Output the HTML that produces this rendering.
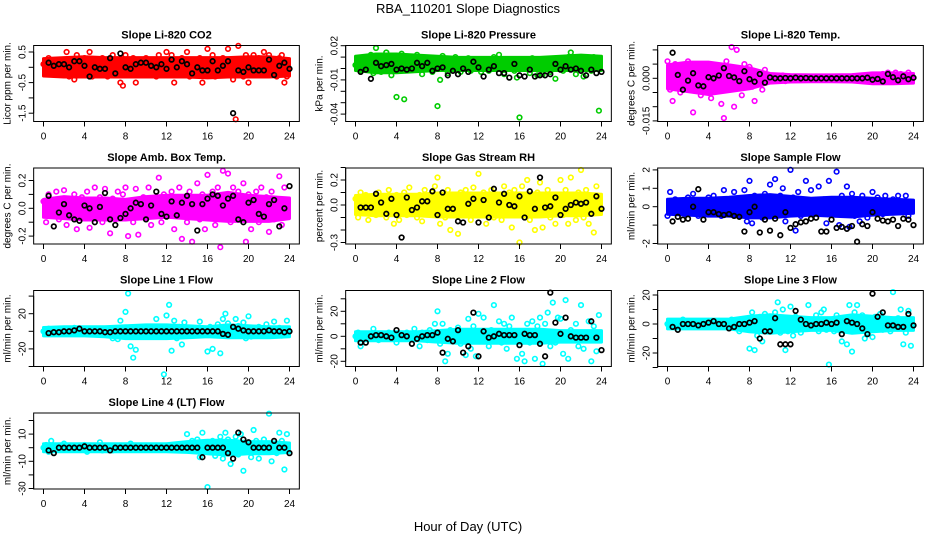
<!DOCTYPE html>
<html><head><meta charset="utf-8">
<style>
html,body{margin:0;padding:0;background:#fff;}
svg{display:block;font-family:"Liberation Sans",sans-serif;}
</style></head>
<body>
<svg id="chart" width="936" height="540" viewBox="0 0 936 540">
<text x="468" y="13" text-anchor="middle" font-size="13">RBA_110201  Slope Diagnostics</text>
<text x="468" y="531" text-anchor="middle" font-size="13">Hour of Day (UTC)</text>
</svg>
<script>
const xTicks = [0,4,8,12,16,20,24];
const xTickLabels = ["0","4","8","12","16","20","24"];
const colorStep = 0.25;
const blackStart = 0.5, blackStep = 0.5;
const bandStep = 2;

const co2Color = [0.1,-0.2,0.3,0.0,-0.1,0.2,-0.2,0.1, 0.0,0.5,-0.3,0.2,-0.4,0.4,0.1,-0.2, 0.3,-0.1,0.5,-0.3,0.2,0.0,-0.2,0.3, 0.1,-0.3,0.2,0.4,-0.2,0.0,-0.5,-0.6, 0.4,-0.2,0.1,0.3,-0.5,0.2,-0.1,0.0, 0.3,-0.2,0.2,0.0,-0.3,0.4,0.1,-0.1, 0.5,-0.2,0.4,-0.5,0.2,-0.1,0.3,0.0, 0.5,-0.3,0.2,0.0,-0.2,0.3,-0.5,0.1, 0.6,-0.1,0.4,-0.3,0.2,0.0,0.3,-0.2, 0.6,0.2,-0.4,-1.7,0.7,0.0,-0.3,0.4, -0.5,0.2,0.4,-0.1,0.3,-0.2,0.5,0.0, 0.4,-0.2,0.2,-0.3,0.3,0.4,-0.5,-0.3];
const co2Black = [0.15,0.05,0.1,0.1,0.0,0.2,0.2,0.05,-0.3,0.0,-0.05,-0.05,0.3,-0.2,0.45,0.0,-0.05,0.1,0.15,0.15,0.05,0.0,0.1,-0.05,0.25,0.0,0.2,0.1,-0.2,0.0,-0.1,-0.1,0.2,-0.1,0.05,0.2,-1.5,-0.1,-0.15,0.0,-0.1,-0.1,-0.1,0.25,-0.25,0.05,0.15,-0.05];
const co2BandLow = [-0.22,-0.25,-0.25,-0.25,-0.25,-0.25,-0.25,-0.25,-0.28,-0.25,-0.25,-0.25,-0.22];
const co2BandHigh = [0.22,0.25,0.28,0.25,0.25,0.25,0.25,0.25,0.25,0.25,0.28,0.28,0.22];

const presColor = [0.003,0.008,-0.002,0.006,0.010,0.000,0.012,-0.004, 0.018,0.005,-0.003,0.009,0.014,0.002,-0.006,0.011, -0.025,0.008,0.013,-0.027,0.004,0.010,-0.001,0.007, 0.012,0.002,-0.005,0.009,0.000,0.006,-0.003,0.004, -0.033,-0.010,0.011,0.003,-0.004,0.008,0.001,0.010, 0.002,-0.003,0.007,0.000,0.009,-0.002,0.005,0.001, 0.004,-0.003,0.008,0.001,-0.002,0.006,0.010,0.000, 0.012,0.003,-0.005,0.007,0.000,0.004,-0.002,-0.008, -0.043,0.005,0.000,0.008,-0.004,0.009,0.002,-0.006, 0.006,-0.005,0.008,0.001,-0.003,0.007,-0.009,0.004, 0.002,-0.002,0.007,0.010,0.014,0.003,-0.005,0.008, 0.001,-0.007,0.009,0.004,-0.002,0.010,0.005,-0.037];
const presBlack = [-0.003,-0.001,-0.009,0.005,0.002,0.003,0.004,-0.001,0.000,-0.001,0.000,0.005,0.002,0.005,-0.002,0.000,0.001,-0.006,-0.002,-0.005,0.000,-0.003,0.006,0.001,-0.007,-0.001,0.002,-0.004,-0.004,-0.008,0.004,-0.006,-0.007,-0.001,-0.007,-0.006,-0.006,-0.005,0.004,-0.001,0.002,-0.001,0.000,-0.002,-0.006,-0.001,-0.004,-0.003];
const presBandLow = [0.000,-0.002,-0.002,-0.001,0.000,0.000,0.000,0.000,0.000,0.000,0.000,0.000,0.000];
const presBandHigh = [0.009,0.011,0.011,0.010,0.009,0.008,0.008,0.008,0.008,0.008,0.009,0.010,0.009];

const tempColor = [0.006,-0.004,-0.008,0.005,0.001,-0.005,0.002,-0.003, 0.006,-0.002,-0.012,0.004,0.000,-0.006,0.003,-0.001, 0.002,-0.007,0.004,-0.003,0.001,-0.009,-0.014,0.006, -0.004,0.011,-0.010,0.010,0.000,-0.006,0.005,-0.002, 0.004,-0.003,-0.008,0.002,0.001,-0.004,0.003,-0.001, 0.001,-0.001,0.0005,-0.0005,0.000,0.001,-0.001,0.0005, 0.000,-0.0005,0.0005,0.000,-0.0005,0.0005,0.000,0.000, 0.0005,0.000,-0.0005,0.000,0.0003,0.000,-0.0003,0.000, 0.000,0.0003,0.000,-0.0003,0.000,0.0003,0.000,-0.0003, 0.0005,0.000,-0.0005,0.0003,0.000,-0.0003,0.0005,-0.001, 0.001,-0.001,0.0005,-0.001,0.0015,-0.0005,0.002,-0.001, 0.001,0.002,-0.001,0.0015,0.000,-0.0005,0.002,0.0005];
const tempBlack = [0.009,0.0012,-0.004,-0.0008,0.0018,-0.0025,-0.0028,0.0004,0.000,0.001,0.0036,0.0008,0.0003,-0.001,0.0025,-0.0003,-0.0012,0.0015,-0.0015,0.0003,0.000,0.000,0.0001,0.000,0.0002,0.000,0.0001,0.000,0.000,0.000,0.000,0.000,0.000,0.000,0.000,0.000,0.000,0.000,0.0002,-0.0005,-0.0002,-0.0011,0.0015,0.0004,-0.0007,0.0007,-0.0003,0.0002];
const tempBandLow = [-0.003,-0.004,-0.005,-0.004,-0.003,-0.001,-0.0006,-0.0005,-0.0005,-0.0006,-0.0012,-0.0012,-0.001];
const tempBandHigh = [0.004,0.005,0.005,0.004,0.003,0.001,0.0006,0.0005,0.0005,0.0006,0.0012,0.0012,0.001];

const ambColor = [0.05,-0.1,0.1,-0.05,0.0,0.12,-0.08,0.03, 0.13,-0.12,0.06,-0.02,0.1,-0.15,0.0,0.08, -0.06,0.12,-0.14,0.03,0.15,-0.05,0.08,-0.1, 0.14,0.0,-0.18,0.07,-0.08,0.12,-0.03,0.1, 0.15,-0.2,0.05,-0.1,0.14,-0.19,0.02,0.08, -0.07,0.15,-0.12,0.05,0.0,0.22,-0.1,0.1, 0.08,-0.05,0.12,-0.15,0.03,0.15,-0.22,0.06, -0.1,0.12,-0.24,0.05,0.18,-0.08,0.1,-0.15, 0.24,-0.05,0.12,-0.12,0.15,-0.28,0.27,0.05, 0.25,-0.1,0.15,-0.02,0.12,-0.08,0.18,-0.24, 0.1,-0.15,0.05,0.12,-0.1,0.15,-0.05,0.08, -0.17,0.12,-0.08,0.05,0.23,-0.12,0.15,0.0];
const ambBlack = [0.09,-0.13,-0.03,0.03,-0.05,-0.08,-0.09,0.02,0.0,-0.1,0.01,0.11,-0.08,-0.12,-0.07,-0.04,0.0,0.04,0.03,-0.08,0.02,0.12,-0.04,-0.06,0.05,-0.05,0.04,0.09,0.03,-0.16,0.03,0.07,0.1,0.09,0.02,0.07,0.09,-0.08,-0.1,0.04,0.06,-0.04,-0.06,0.03,0.06,-0.13,0.0,0.16];
const ambBandLow = [-0.05,-0.06,-0.07,-0.07,-0.07,-0.06,-0.05,-0.06,-0.07,-0.08,-0.08,-0.08,-0.06];
const ambBandHigh = [0.05,0.07,0.06,0.06,0.05,0.07,0.08,0.08,0.08,0.1,0.08,0.07,0.06];

const rhColor = [0.05,-0.1,0.1,-0.05,0.08,-0.12,0.02,0.06, -0.08,0.1,-0.03,0.05,-0.1,0.12,0.0,-0.15, 0.08,-0.12,0.03,0.1,-0.08,0.14,-0.02,0.05, -0.1,0.08,-0.13,0.12,0.0,-0.06,0.1,0.15, 0.22,-0.15,0.05,-0.1,0.12,-0.2,0.03,0.08, -0.23,0.1,-0.05,0.12,0.0,-0.12,0.14,0.05, 0.25,-0.08,0.1,-0.15,0.05,0.12,-0.1,0.02, 0.08,-0.12,0.15,-0.05,0.1,-0.18,0.12,0.04, -0.3,0.15,-0.08,0.2,-0.12,0.05,-0.2,0.1, 0.18,-0.18,0.05,0.12,-0.1,0.08,-0.15,0.03, 0.2,-0.08,0.12,-0.15,0.22,0.05,-0.12,0.1, 0.28,-0.1,0.12,-0.15,0.05,-0.22,0.15,0.02];
const rhBlack = [-0.02,-0.02,-0.02,0.09,0.02,-0.07,0.05,-0.08,-0.26,0.06,-0.04,-0.02,0.03,0.03,0.11,-0.08,0.1,-0.03,-0.03,-0.13,-0.14,0.01,0.05,-0.14,0.04,-0.1,0.13,0.02,0.09,0.0,-0.01,0.07,-0.1,0.11,-0.03,0.22,-0.02,-0.01,0.06,-0.08,-0.03,0.0,0.02,0.01,0.02,-0.07,0.07,-0.03];
const rhBandLow = [-0.06,-0.07,-0.07,-0.07,-0.08,-0.08,-0.08,-0.08,-0.08,-0.08,-0.07,-0.07,-0.06];
const rhBandHigh = [0.06,0.07,0.07,0.07,0.08,0.08,0.08,0.08,0.08,0.08,0.08,0.08,0.07];

const flowColor = [-0.5,0.8,-0.2,0.4,-0.3,0.2,0.3,-0.4, 0.5,-0.2,0.7,0.1,-0.5,0.3,-0.3,0.2, 0.5,-0.4,0.6,-0.2,0.3,-0.5,0.9,0.0, 0.3,-0.4,0.8,-0.3,0.2,-0.1,0.9,-0.8, 1.4,-0.9,0.6,-0.3,0.5,-0.6,0.7,0.2, 1.2,-0.4,1.5,-0.2,0.6,1.0,-0.8,0.4, 2.0,0.5,-1.3,0.8,-0.5,0.3,1.4,-0.2, 0.9,-0.4,0.2,1.1,-0.3,0.4,-0.9,1.4, 0.3,-0.2,1.9,-1.0,0.6,-0.4,1.1,-1.1, 0.7,-0.5,0.4,-0.8,0.6,-0.2,-0.6,0.2, 0.8,-0.3,0.5,0.1,-0.4,0.6,-0.2,0.3, 0.4,-0.1,0.6,-0.3,0.2,0.6,-0.5,0.1];
const flowBlack = [-0.8,-0.55,-0.7,-0.65,0.0,0.95,-0.7,-0.3,-0.3,-0.4,-0.45,-0.4,-0.5,-0.55,-1.35,-0.3,0.0,-1.4,-0.7,-1.3,-0.65,-1.55,-0.3,-1.15,-0.95,-0.85,-0.8,-0.65,-0.6,-1.35,-1.35,-0.7,-1.15,-1.1,-1.2,-1.05,-1.9,-0.95,-1.05,-0.3,-0.65,-0.75,-0.8,-0.7,-1.05,-0.65,-0.7,-1.0];
const flowBandLow = [-0.3,-0.35,-0.4,-0.4,-0.5,-0.5,-0.4,-0.35,-0.4,-0.45,-0.35,-0.3,-0.25];
const flowBandHigh = [0.3,0.35,0.35,0.4,0.5,0.55,0.45,0.35,0.4,0.4,0.35,0.3,0.25];

const line1Color = [0,-2,3,1,-1,2,0,-3, 3,0,-2,1,4,-1,0,2, -3,1,2,-2,0,3,-1,1, 2,-4,0,-8,3,-9,12,-2, 22,43,-17,-30,-21,1,-3,2, 0,-4,2,-2,14,-1,4,-49, 18,30,-22,12,-8,5,-15,10, 2,-3,4,0,-2,11,-1,2, -23,5,-20,3,8,-25,14,20, 9,5,-3,14,6,-5,10,-8, 17,-6,3,-2,5,-4,2,8, 3,-2,11,-4,4,-5,2,12];
const line1Black = [-2,-1,-1,0,0,1,3,0,0,0,0,-1,-1,0,0,0,0,0,0,0,0,0,0,0,0,0,0,0,0,0,0,0,0,0,-3,-4,5,3,1,0,0,0,0,1,0,0,-1,0];
const line1BandLow = [-3,-3,-3,-4,-6,-6,-6,-5,-4,-5,-5,-5,-4];
const line1BandHigh = [2,3,3,3,4,5,5,4,3,5,4,3,3];

const line2Color = [0,3,-8,2,-1,1,0,6, 1,-3,2,0,-1,3,2,0, -5,2,-1,1,3,0,-2,6, 1,-8,3,0,-3,5,-2,10, 20,-6,10,-20,-14,5,3,-3, 7,-6,0,-15,14,-10,8,-16, 18,-4,15,-2,-8,5,25,-3, 12,-5,10,-10,8,15,-2,-18, 4,-14,-20,10,-5,12,-18,8, 15,-22,10,19,-8,27,-5,15, 14,-14,29,-18,5,-3,10,-8, 25,-10,3,12,-20,8,-12,17];
const line2Black = [-5,-5,0,1,1,0,-1,5,1,0,-6,-2,0,1,1,3,-13,-2,-4,5,-13,-8,19,-16,4,-1,0,2,1,1,1,-7,2,1,1,-6,-16,35,11,2,15,0,-1,-1,-1,12,-1,-11];
const line2BandLow = [-2,-2,-2,-2,-3,-4,-4,-4,-4,-4,-3,-3,-3];
const line2BandHigh = [2,2,2,2,3,4,4,4,4,4,3,3,3];

const line3Color = [0,2,-1,1,-2,0,3,-1, 1,0,-2,2,0,1,-1,0, 2,-1,0,1,-2,0,2,-1, 0,3,-2,1,-5,0,2,-3, -17,8,-18,-8,5,-12,7,-2, 3,-3,8,15,-6,10,-18,-5, 12,-8,5,-2,-6,3,0,13, 2,-3,6,-5,8,10,-4,-28, 3,-5,6,-2,-12,4,-14,13, -19,8,13,-3,6,-10,-6,2, -9,5,-2,7,-4,3,0,-5, 22,-2,4,10,-14,-6,9,-15];
const line3Black = [-2,-4,0,0,0,-1,0,1,2,0,0,-3,-2,0,0,1,2,-10,-5,-5,4,-14,-14,-14,9,3,0,-1,0,0,1,0,1,-7,2,1,0,-3,-7,21,5,8,-1,-1,-2,-2,7,-1];
const line3BandLow = [-2,-2,-2,-2,-4,-5,-4,-3,-3,-5,-4,-3,-3];
const line3BandHigh = [2,2,2,2,4,5,4,3,3,5,4,3,3];

const line4Color = [0,2,-3,5,0,1,0,-1, 3,0,1,-1,0,0,1,0, 2,-3,0,1,0,-1,4,-2, 0,1,0,-2,0,0,1,0, 0,0,3,0,-1,0,0,1, 0,0,0,1,0,0,-1,0, 0,0,0,0,1,0,0,0, 10,-2,5,3,6,-7,11,4, -29,2,5,-6,-3,8,-8,11, 6,-12,3,8,-5,10,-17,2, 4,-7,13,5,-8,-3,6,-1, 25,-10,3,-4,11,5,-16,10];
const line4Black = [-2,-4,0,0,0,0,0,1,0,0,0,0,-2,0,0,0,0,0,0,0,0,0,0,0,0,0,0,0,0,0,-7,0,0,0,0,-4,-8,11,6,4,0,0,0,0,5,0,0,-4];
const line4BandLow = [-1.5,-1.5,-1.5,-1.5,-1.5,-1.5,-1.5,-2,-3,-4,-3,-3,-2];
const line4BandHigh = [1.5,1.5,1.5,1.5,1.5,1.5,1.5,3,4,4,3,3,2];

const co2Ticks = [0.5,0,-0.5,-1,-1.5], co2TickLabels = ["0.5","","-0.5","","-1.5"];
const presTicks = [0.02,0.01,0,-0.01,-0.02,-0.03,-0.04], presTickLabels = ["0.02","","","-0.01","","","-0.04"];
const tempTicks = [0.01,0.005,0,-0.005,-0.01,-0.015], tempTickLabels = ["","","0.000","","","-0.015"];
const ambTicks = [0.2,0.1,0,-0.1,-0.2], ambTickLabels = ["0.2","","0.0","","-0.2"];
const rhTicks = [0.3,0.2,0.1,0,-0.1,-0.2,-0.3], rhTickLabels = ["","0.2","","0.0","","","-0.3"];
const flowTicks = [2,1,0,-1,-2], flowTickLabels = ["2","1","0","","-2"];
const line1Ticks = [40,20,0,-20,-40], line1TickLabels = ["","20","","-20",""];
const line2Ticks = [30,20,10,0,-10,-20], line2TickLabels = ["","20","","0","","-20"];
const line3Ticks = [20,10,0,-10,-20,-30], line3TickLabels = ["20","","0","","-20",""];
const line4Ticks = [20,10,0,-10,-20,-30], line4TickLabels = ["","10","","-10","","-30"];

const panels = [
 {name:"co2",title:"Slope Li-820 CO2",ylab:"Licor ppm per min.",color:"#ff0000",col:0,row:0,y0:67.3,ppu:30.6,c:co2Color,b:co2Black,lo:co2BandLow,hi:co2BandHigh,t:co2Ticks,tl:co2TickLabels},
 {name:"pressure",title:"Slope Li-820 Pressure",ylab:"kPa per min.",color:"#00cc00",col:1,row:0,y0:68.5,ppu:1140,c:presColor,b:presBlack,lo:presBandLow,hi:presBandHigh,t:presTicks,tl:presTickLabels},
 {name:"temp",title:"Slope Li-820 Temp.",ylab:"degrees C per min.",color:"#ff00ff",col:2,row:0,y0:78.3,ppu:2840,c:tempColor,b:tempBlack,lo:tempBandLow,hi:tempBandHigh,t:tempTicks,tl:tempTickLabels},
 {name:"amb-box-temp",title:"Slope Amb. Box Temp.",ylab:"degrees C per min.",color:"#ff00ff",col:0,row:1,y0:208.3,ppu:139,c:ambColor,b:ambBlack,lo:ambBandLow,hi:ambBandHigh,t:ambTicks,tl:ambTickLabels},
 {name:"gas-stream-rh",title:"Slope Gas Stream RH",ylab:"percent per min.",color:"#ffff00",col:1,row:1,y0:205,ppu:125,c:rhColor,b:rhBlack,lo:rhBandLow,hi:rhBandHigh,t:rhTicks,tl:rhTickLabels},
 {name:"sample-flow",title:"Slope Sample Flow",ylab:"ml/min per min.",color:"#0000ff",col:2,row:1,y0:206.7,ppu:18.4,c:flowColor,b:flowBlack,lo:flowBandLow,hi:flowBandHigh,t:flowTicks,tl:flowTickLabels},
 {name:"line1-flow",title:"Slope Line 1 Flow",ylab:"ml/min per min.",color:"#00ffff",col:0,row:2,y0:331.3,ppu:0.88,c:line1Color,b:line1Black,lo:line1BandLow,hi:line1BandHigh,t:line1Ticks,tl:line1TickLabels},
 {name:"line2-flow",title:"Slope Line 2 Flow",ylab:"ml/min per min.",color:"#00ffff",col:1,row:2,y0:336.3,ppu:1.25,c:line2Color,b:line2Black,lo:line2BandLow,hi:line2BandHigh,t:line2Ticks,tl:line2TickLabels},
 {name:"line3-flow",title:"Slope Line 3 Flow",ylab:"ml/min per min.",color:"#00ffff",col:2,row:2,y0:324,ppu:1.45,c:line3Color,b:line3Black,lo:line3BandLow,hi:line3BandHigh,t:line3Ticks,tl:line3TickLabels},
 {name:"line4-flow",title:"Slope Line 4 (LT) Flow",ylab:"ml/min per min.",color:"#00ffff",col:0,row:3,y0:447.7,ppu:1.36,c:line4Color,b:line4Black,lo:line4BandLow,hi:line4BandHigh,t:line4Ticks,tl:line4TickLabels}
];

const NS = "http://www.w3.org/2000/svg";
const svg = document.getElementById("chart");
const rowTops = [45.5,168,290.5,413];
const boxH = 76;
function mk(tag, attrs, parent){ const e=document.createElementNS(NS,tag); for(const k in attrs) e.setAttribute(k,attrs[k]); parent.appendChild(e); return e; }

panels.forEach(p=>{
  const x0 = 43.5 + 312*p.col;
  const xs = h => x0 + h*10.25;
  const ys = v => p.y0 - v*p.ppu;
  const left = xs(-0.96), right = xs(24.96), top = rowTops[p.row], bottom = top+boxH;
  const g = mk("g",{},svg);
  
  
  const title = mk("text",{x:(left+right)/2,y:top-7,"text-anchor":"middle","font-size":"11","font-weight":"bold"},g);
  title.textContent = p.title;
  
  
  const yl = mk("text",{x:0,y:0,"text-anchor":"middle","font-size":"10",transform:`translate(${left-23},${top+boxH/2}) rotate(-90)`},g);
  yl.textContent = p.ylab;
  
  
  // dense band of colored points (envelope)
  let d = "";
  p.hi.forEach((v,i)=>{ d += (i?"L":"M") + xs(i*bandStep).toFixed(1) + "," + (ys(v)-2).toFixed(1); });
  for(let i=p.lo.length-1;i>=0;i--){ d += "L" + xs(i*bandStep).toFixed(1) + "," + (ys(p.lo[i])+2).toFixed(1); }
  d += "Z";
  const band = mk("path",{d:d,fill:p.color,stroke:p.color,"stroke-width":"3","stroke-linejoin":"round"},g);
  
  
  const cg = mk("g",{fill:"none",stroke:p.color,"stroke-width":"1.6"},g);
  
  
  p.c.forEach((v,i)=>{
    const c = mk("circle",{cx:xs(i*colorStep).toFixed(1),cy:ys(v).toFixed(1),r:"2.3"},cg);
    
    
  });
  const bg = mk("g",{fill:"none",stroke:"#000","stroke-width":"1.7"},g);
  
  
  p.b.forEach((v,i)=>{
    const c = mk("circle",{cx:xs(blackStart+i*blackStep).toFixed(1),cy:ys(v).toFixed(1),r:"2.3"},bg);
    
    
  });
  const box = mk("rect",{x:left,y:top,width:right-left,height:boxH,fill:"none",stroke:"#000","stroke-width":"1"},g);
  
  
  const xa = mk("g",{},g);
  
  
  mk("line",{x1:xs(0),x2:xs(24),y1:bottom,y2:bottom,stroke:"#000"},xa);
  xTicks.forEach((t,i)=>{
    mk("line",{x1:xs(t),x2:xs(t),y1:bottom,y2:bottom+5,stroke:"#000"},xa);
    const tx = mk("text",{x:xs(t),y:bottom+18,"text-anchor":"middle","font-size":"10"},xa);
    tx.textContent = xTickLabels[i];
    
    
  });
  const ya = mk("g",{},g);
  
  
  const tvals = p.t.filter(t=>ys(t)>=top-4 && ys(t)<=bottom+4);
  mk("line",{x1:left,x2:left,y1:ys(Math.max(...tvals)),y2:ys(Math.min(...tvals)),stroke:"#000"},ya);
  p.t.forEach((t,i)=>{
    const y = ys(t);
    if(y<top-4||y>bottom+4) return;
    mk("line",{x1:left-5,x2:left,y1:y,y2:y,stroke:"#000"},ya);
    if(p.tl[i]){
      const tx = mk("text",{x:0,y:0,"text-anchor":"middle","font-size":"10",transform:`translate(${left-8},${y}) rotate(-90)`},ya);
      tx.textContent = p.tl[i];
      
      
    }
  });
});
</script>
</body></html>
